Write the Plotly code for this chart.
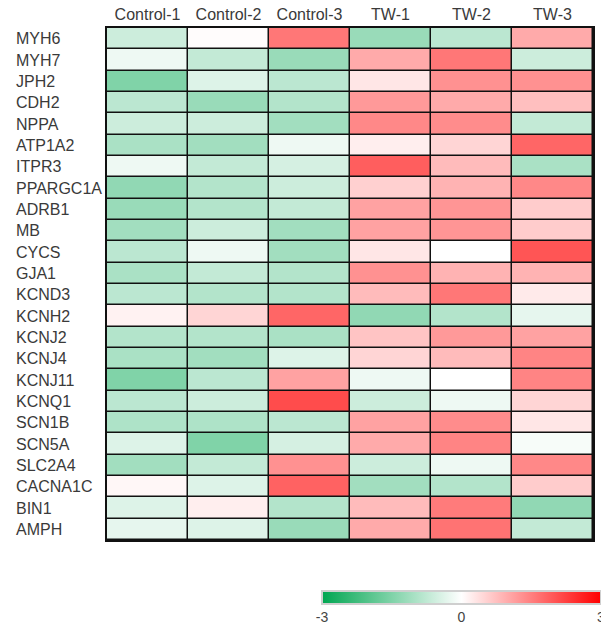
import plotly.graph_objects as go

samples = ["Control-1", "Control-2", "Control-3", "TW-1", "TW-2", "TW-3"]
genes = ["MYH6", "MYH7", "JPH2", "CDH2", "NPPA", "ATP1A2", "ITPR3", "PPARGC1A",
         "ADRB1", "MB", "CYCS", "GJA1", "KCND3", "KCNH2", "KCNJ2", "KCNJ4",
         "KCNJ11", "KCNQ1", "SCN1B", "SCN5A", "SLC2A4", "CACNA1C", "BIN1", "AMPH"]

# z-scored expression, one list per gene (Control-1 .. TW-3)
MYH6 = [-0.6, 0.03, 1.6, -1.2, -0.8, 1.0]
MYH7 = [-0.2, -0.7, -1.2, 1.0, 1.6, -0.6]
JPH2 = [-1.5, -0.4, -0.8, 0.3, 1.3, 1.3]
CDH2 = [-0.8, -1.2, -0.9, 1.2, 1.0, 0.75]
NPPA = [-0.6, -0.6, -1.1, 1.4, 1.35, -0.7]
ATP1A2 = [-1.0, -1.1, -0.2, 0.2, 0.5, 1.8]
ITPR3 = [-0.2, -0.7, -0.5, 1.9, 0.8, -1.0]
PPARGC1A = [-1.3, -0.9, -0.6, 0.55, 0.9, 1.4]
ADRB1 = [-1.2, -0.9, -0.7, 1.1, 1.25, 0.6]
MB = [-1.1, -0.6, -1.1, 1.1, 1.25, 0.6]
CYCS = [-0.8, -0.2, -1.1, 0.3, 0.0, 2.0]
GJA1 = [-1.0, -0.7, -0.9, 1.3, 0.9, 0.9]
KCND3 = [-0.8, -0.9, -0.9, 0.8, 1.6, 0.25]
KCNH2 = [0.15, 0.5, 1.8, -1.3, -0.9, -0.3]
KCNJ2 = [-0.9, -0.9, -1.0, 0.7, 1.2, 1.1]
KCNJ4 = [-1.0, -1.1, -0.4, 0.5, 0.8, 1.45]
KCNJ11 = [-1.5, -0.8, 1.1, -0.2, 0.0, 1.45]
KCNQ1 = [-0.8, -0.6, 2.1, -0.6, -0.2, 0.5]
SCN1B = [-0.95, -0.95, -0.8, 1.1, 1.35, 0.3]
SCN5A = [-0.4, -1.5, -0.5, 1.0, 1.45, -0.1]
SLC2A4 = [-1.1, -0.7, 1.3, -0.6, -0.2, 1.4]
CACNA1C = [0.1, -0.4, 1.85, -1.1, -0.9, 0.6]
BIN1 = [-0.4, 0.2, -0.9, 0.8, 1.55, -1.3]
AMPH = [-0.3, -0.4, -1.2, 1.0, 1.65, -0.7]

z = [MYH6, MYH7, JPH2, CDH2, NPPA, ATP1A2, ITPR3, PPARGC1A, ADRB1, MB, CYCS,
     GJA1, KCND3, KCNH2, KCNJ2, KCNJ4, KCNJ11, KCNQ1, SCN1B, SCN5A, SLC2A4,
     CACNA1C, BIN1, AMPH]

W, H = 601, 626
L, R, T, B = 107, 8, 28, 86
plot_w = W - L - R

label_font = dict(family="Liberation Sans, Arial, sans-serif", size=16, color="#3a3a3a")

fig = go.Figure(go.Heatmap(
    z=z, x=samples, y=genes,
    zmin=-3, zmax=3, zmid=0,
    colorscale=[[0, "#00A651"], [0.5, "#FFFFFF"], [1, "#FF0000"]],
    xgap=1.5, ygap=1.5,
    hoverongaps=False,
    colorbar=dict(
        orientation="h",
        xref="paper", yref="container",
        x=(322 - L) / plot_w, xanchor="left",
        y=(H - 591) / H, yanchor="top",
        xpad=0, ypad=0,
        len=279 / plot_w, lenmode="fraction",
        thickness=13,
        outlinewidth=2, outlinecolor="#cfcfcf",
        tickvals=[-3, 0, 3], ticktext=["-3", "0", "3"],
        ticks="", ticklen=0,
        ticklabeloverflow="allow",
        tickfont=dict(family="Liberation Sans, Arial, sans-serif", size=14, color="#444444"),
    ),
))

# left-aligned gene names
for g in genes:
    fig.add_annotation(
        x=(14 - L) / plot_w, xref="paper", xanchor="left",
        y=g, yref="y", yanchor="middle",
        text=g, showarrow=False, font=label_font,
    )

fig.update_xaxes(
    side="top", type="category",
    showgrid=False, zeroline=False, ticks="", ticklen=0,
    tickfont=label_font,
    showline=True, mirror=True, linecolor="#111111", linewidth=1.5,
)
fig.update_yaxes(
    type="category", autorange="reversed",
    showgrid=False, zeroline=False, ticks="", showticklabels=False,
    showline=True, mirror=True, linecolor="#111111", linewidth=1.5,
)

fig.update_layout(
    width=W, height=H,
    margin=dict(l=L, r=R, t=T, b=B, autoexpand=False),
    paper_bgcolor="white", plot_bgcolor="#111111",
    showlegend=False,
)

fig.write_html("out.html")
